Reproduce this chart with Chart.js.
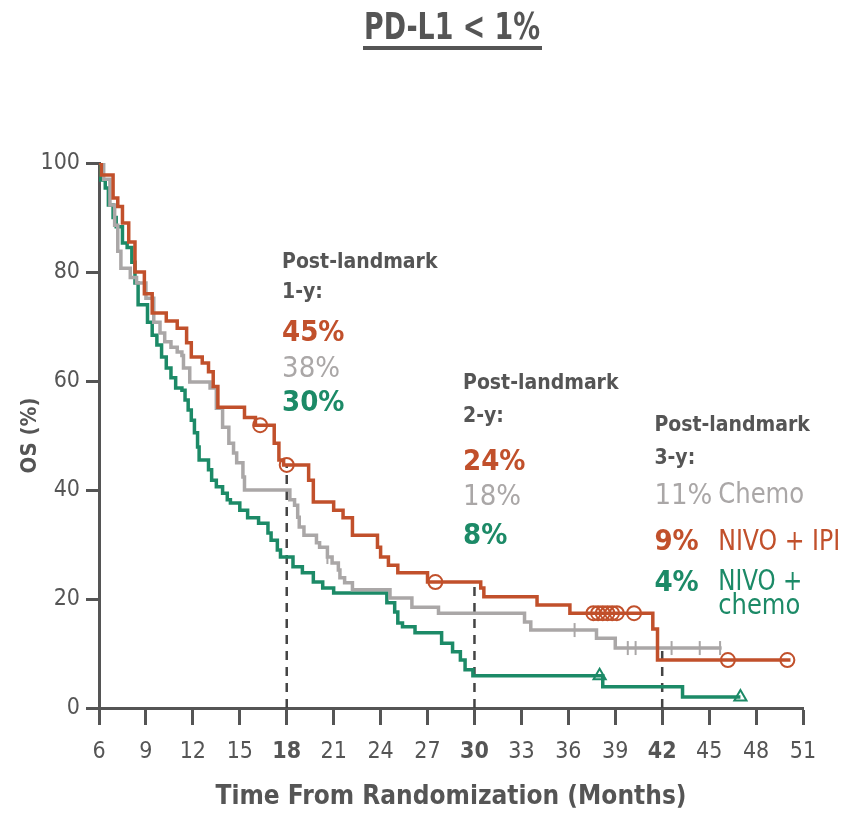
<!DOCTYPE html>
<html>
<head>
<meta charset="utf-8">
<script src="https://cdn.jsdelivr.net/npm/chart.js@4.4.1/dist/chart.umd.min.js"></script>
<style>
    html, body { margin: 0; padding: 0; background: #ffffff; }
    #wrap { width: 845px; height: 813px; position: relative; }
</style>
</head>
<body>
<div id="wrap"><canvas id="osChart"></canvas></div>
<script>
// 데이터 (읽어낸 값)
const xTicks = [6, 9, 12, 15, 18, 21, 24, 27, 30, 33, 36, 39, 42, 45, 48, 51];
const yTicks = [0, 20, 40, 60, 80, 100];
const landmarkMonths = [18, 30, 42];

// NIVO + IPI
const ipiMonths = [6, 6.15, 6.9, 7.2, 7.5, 7.9, 8.3, 8.9, 9.4, 10.3, 11.0, 11.6, 11.9, 12.6, 13.0, 13.3, 13.6,
    15.3, 16.0, 17.2, 17.5, 17.8, 19.4, 19.7, 21.0, 21.6, 22.2, 23.8, 24.0, 24.5, 25.1, 27.0,
    30.4, 30.6, 34.0, 36.1, 41.4, 41.7, 50.2];
const ipiOS = [100, 97.8, 93.6, 92, 89, 85.5, 80, 76, 72.5, 71, 69.7, 67, 64.4, 63.3, 61.7, 59, 55.2,
    53.3, 51.9, 48.6, 45.5, 44.6, 41.8, 37.8, 36.3, 34.9, 31.7, 29.5, 27.7, 26.2, 24.8, 23.1,
    22, 20.4, 18.9, 17.4, 14.5, 8.8, 8.8];
const ipiCensorMonths = [16.3, 18.0, 27.5, 37.6, 37.9, 38.2, 38.5, 38.8, 39.1, 40.2, 46.2, 50.0];
const ipiCensorOS = [51.9, 44.6, 23.1, 17.4, 17.4, 17.4, 17.4, 17.4, 17.4, 17.4, 8.8, 8.8];

// Chemo
const chemoMonths = [6, 6.3, 6.7, 7.0, 7.2, 7.4, 8.0, 8.4, 9.0, 9.5, 9.9, 10.2, 10.6, 11.0, 11.3, 11.4, 11.8,
    13.1, 13.5, 13.9, 14.3, 14.6, 14.8, 15.2, 15.3, 18.2, 18.5, 18.7, 18.8, 19.1, 19.9, 20.1, 20.6,
    20.9, 21.3, 21.4, 21.7, 22.2, 24.6, 26.0, 27.7, 33.2, 33.6, 37.8, 39.0, 45.8];
const chemoOS = [100, 97, 92.3, 88.6, 83.8, 80.7, 79, 78, 75.2, 70.8, 68.8, 67.2, 66.2, 65.3, 64.7, 62.4, 59.8,
    58.7, 55, 51.5, 48.6, 46.8, 45, 42.4, 40, 38.2, 37.2, 35, 33.2, 31.7, 30.3, 29.5, 27.7,
    26.6, 25.3, 23.9, 23, 21.7, 20.2, 18.5, 17.4, 15.8, 14.3, 12.8, 11, 11];
const chemoCensorMonths = [20.6, 36.4, 39.8, 40.3, 42.6, 44.4, 45.7];
const chemoCensorOS = [27.7, 14.3, 11, 11, 11, 11, 11];

// NIVO + chemo
const nivoChemoMonths = [6, 6.1, 6.4, 6.6, 6.9, 7.1, 7.5, 7.8, 8.1, 8.3, 8.5, 9.1, 9.4, 9.7, 10.0, 10.3, 10.6,
    10.9, 11.3, 11.5, 11.7, 11.9, 12.1, 12.3, 12.4, 13.0, 13.2, 13.5, 13.9, 14.2, 14.4, 15.0, 15.5,
    16.2, 16.8, 17.0, 17.4, 17.6, 18.4, 19.0, 19.7, 20.3, 21.0, 24.4, 24.9, 25.1, 25.4, 26.2,
    27.9, 28.6, 29.1, 29.4, 29.9, 38.2, 43.3, 47.0];
const nivoChemoOS = [100, 96.9, 95.4, 92.3, 90, 88.3, 85.3, 84.5, 81.8, 78, 74, 70.8, 68.4, 66.6, 64.4, 62.4, 60.6,
    58.7, 58.3, 56.5, 54.7, 52.8, 50.5, 47.9, 45.5, 43.7, 41.8, 40.6, 39.4, 38.2, 37.6, 36.3, 34.9,
    33.9, 32.1, 30.8, 29, 27.7, 25.9, 24.8, 23.1, 22, 21.1, 19.3, 17.6, 15.6, 14.9, 13.8,
    11.9, 10.3, 8.8, 7, 5.9, 3.9, 2, 2];
const nivoChemoCensorMonths = [38.0, 47.0];
const nivoChemoCensorOS = [5.9, 2];

// 랜드마크 텍스트
const landmarkTitles = ["1-y:", "2-y:", "3-y:"];
const ipiLandmark = ["45%", "24%", "9%"];
const chemoLandmark = ["38%", "18%", "11%"];
const nivoChemoLandmark = ["30%", "8%", "4%"];

const RED = "#c1502b";
const GRAY = "#aaa7a7";
const GREEN = "#1c8a67";
const DARK = "#555555";
const FONT = '"DejaVu Sans Condensed", "DejaVu Sans", sans-serif';

function toPoints(xs, ys) {
    return xs.map((x, i) => ({ x: x, y: ys[i] }));
}

function curve(label, xs, ys, color) {
    return {
        label: label,
        data: toPoints(xs, ys),
        borderColor: color,
        borderWidth: 3.5,
        stepped: "before",
        pointRadius: 0,
        fill: false,
        order: 2
    };
}

function censor(label, xs, ys, color, style, rot) {
    return {
        label: label,
        data: toPoints(xs, ys),
        showLine: false,
        borderColor: color,
        backgroundColor: "rgba(0,0,0,0)",
        pointStyle: style,
        pointRotation: rot || 0,
        pointRadius: 7,
        pointBorderWidth: 2,
        order: 1
    };
}

// 점선 (랜드마크)
const dashTops = [44.6, 23.1, 11];
const dashSets = landmarkMonths.map((m, i) => ({
    label: "landmark" + m,
    data: [{ x: m, y: 0 }, { x: m, y: dashTops[i] }],
    borderColor: "#444444",
    borderWidth: 2.5,
    borderDash: [9, 7],
    pointRadius: 0,
    order: 3
}));

// 제목 + 주석 그리기 플러그인
const annotatePlugin = {
    id: "annotate",
    afterDraw(chart) {
        const ctx = chart.ctx;
        const xs = chart.scales.x;
        const ys = chart.scales.y;
        ctx.save();

        // 제목
        ctx.fillStyle = DARK;
        ctx.font = "bold 37px " + FONT;
        ctx.textAlign = "center";
        ctx.textBaseline = "middle";
        ctx.fillText("PD-L1 < 1%", 452, 29, 176);
        ctx.fillRect(363, 46, 179, 4);

        // 랜드마크 블록
        const blockX = [17.7, 29.27, 41.5];
        const rows = [[81.8, 76.3, 68.8, 62.2, 55.8], [59.6, 53.4, 45.1, 38.7, 31.4], [51.9, 45.7, 38.9, 30.3, 22.9]];
        const valueOrder = [[ipiLandmark, RED, "bold"], [chemoLandmark, GRAY, "normal"], [nivoChemoLandmark, GREEN, "bold"]];
        ctx.textAlign = "left";
        blockX.forEach((bx, b) => {
            const px = xs.getPixelForValue(bx);
            const r = rows[b];
            ctx.fillStyle = DARK;
            ctx.font = "bold 21px " + FONT;
            ctx.fillText("Post-landmark", px, ys.getPixelForValue(r[0]), 176);
            ctx.fillText(landmarkTitles[b], px, ys.getPixelForValue(r[1]));
            // 3년 블록은 Chemo가 먼저
            const order = b === 2 ? [1, 0, 2] : [0, 1, 2];
            order.forEach((k, j) => {
                ctx.fillStyle = valueOrder[k][1];
                ctx.font = valueOrder[k][2] + " 29px " + FONT;
                ctx.fillText(valueOrder[k][0][b], px, ys.getPixelForValue(r[2 + j]));
            });
        });

        // 범례 텍스트 (3년 블록 옆)
        const lx = xs.getPixelForValue(45.58);
        ctx.font = "28px " + FONT;
        ctx.fillStyle = GRAY;
        ctx.fillText("Chemo", lx, ys.getPixelForValue(38.9), 86);
        ctx.fillStyle = RED;
        ctx.fillText("NIVO + IPI", lx, ys.getPixelForValue(30.3), 122);
        ctx.fillStyle = GREEN;
        ctx.fillText("NIVO +", lx, ys.getPixelForValue(22.9), 84);
        ctx.fillText("chemo", lx, ys.getPixelForValue(18.5), 82);

        ctx.restore();
    }
};

const chart = new Chart(document.getElementById("osChart"), {
    type: "line",
    data: {
        datasets: [
            curve("NIVO + IPI", ipiMonths, ipiOS, RED),
            curve("Chemo", chemoMonths, chemoOS, GRAY),
            curve("NIVO + chemo", nivoChemoMonths, nivoChemoOS, GREEN),
            censor("IPI censor", ipiCensorMonths, ipiCensorOS, RED, "circle"),
            censor("Chemo censor", chemoCensorMonths, chemoCensorOS, GRAY, "line", 90),
            censor("NIVO chemo censor", nivoChemoCensorMonths, nivoChemoCensorOS, GREEN, "triangle"),
            ...dashSets
        ]
    },
    options: {
        responsive: true,
        maintainAspectRatio: false,
        animation: false,
        layout: { padding: { top: 163, right: 42, left: 0, bottom: 0 } },
        plugins: {
            legend: { display: false },
            tooltip: { enabled: false },
            title: { display: false }
        },
        scales: {
            x: {
                type: "linear",
                min: 6,
                max: 51,
                afterBuildTicks: (scale) => { scale.ticks = xTicks.map(v => ({ value: v })); },
                afterFit: (scale) => { scale.height = 105; },
                grid: { drawOnChartArea: false, drawTicks: true, tickLength: 17, tickColor: DARK, tickWidth: 3 },
                border: { display: true, color: DARK, width: 3 },
                ticks: {
                    padding: 13,
                    color: DARK,
                    font: (c) => ({
                        family: FONT,
                        size: 23,
                        weight: c.tick && landmarkMonths.includes(c.tick.value) ? "bold" : "normal"
                    })
                },
                title: {
                    display: true,
                    text: "Time From Randomization (Months)",
                    color: DARK,
                    font: { family: FONT, size: 26, weight: "bold" },
                    padding: { top: 0, bottom: 0 }
                }
            },
            y: {
                min: 0,
                max: 100,
                afterBuildTicks: (scale) => { scale.ticks = yTicks.map(v => ({ value: v })); },
                afterFit: (scale) => { scale.width = 99; },
                grid: { drawOnChartArea: false, drawTicks: true, tickLength: 13, tickColor: DARK, tickWidth: 3 },
                border: { display: true, color: DARK, width: 3 },
                ticks: {
                    padding: 6,
                    color: DARK,
                    font: { family: FONT, size: 23 }
                },
                title: {
                    display: true,
                    text: "OS (%)",
                    color: DARK,
                    font: { family: FONT, size: 22, weight: "bold" },
                    padding: { top: 17, bottom: 0 }
                }
            }
        }
    },
    plugins: [annotatePlugin]
});
</script>
</body>
</html>
